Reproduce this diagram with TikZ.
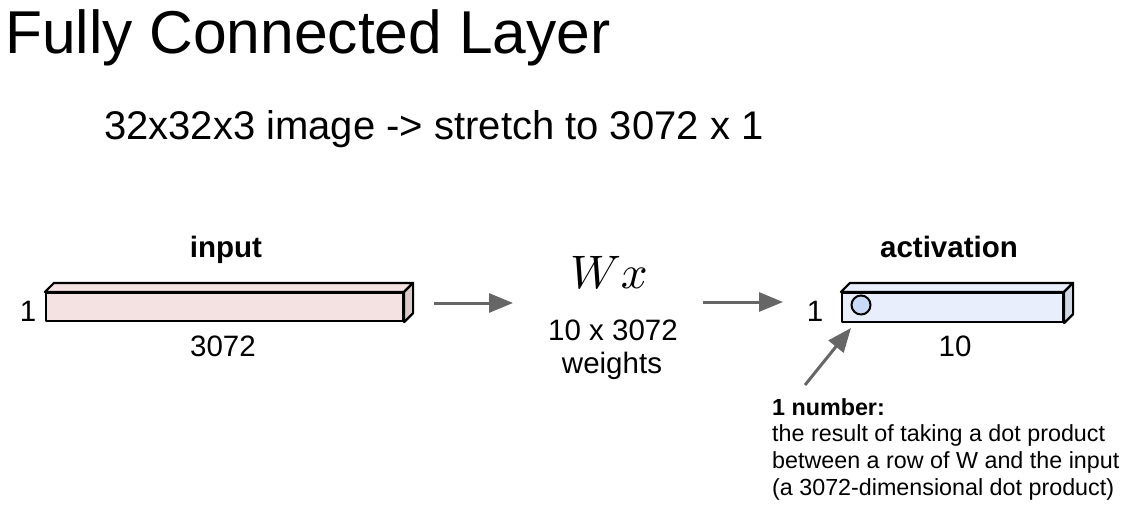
\documentclass[tikz,border=0pt]{standalone}
\usepackage{fontspec}
\setmainfont{Liberation Sans}
\usetikzlibrary{arrows.meta}
\definecolor{inpink}{HTML}{F4E1E1}
\definecolor{inpinkside}{HTML}{DCC9C9}
\definecolor{actblue}{HTML}{E8EEFB}
\definecolor{actblueside}{HTML}{D2D8E3}
\definecolor{dotblue}{HTML}{C9DAF8}
\definecolor{arrowgrey}{HTML}{666666}
\tikzset{
  lbl/.style={inner sep=0pt, font=\fontsize{29.5}{32}\selectfont},
  boldlbl/.style={inner sep=0pt, font=\fontsize{29.5}{32}\selectfont\bfseries},
  face/.style={draw=black, line width=2.2pt, line join=round},
  garrow/.style={draw=arrowgrey, line width=3pt, -{Triangle[length=24pt,width=19pt]}}
}
\begin{document}
\begin{tikzpicture}[x=1pt,y=-1pt]
\useasboundingbox (0,0) rectangle (1132,520);
% titles
\node[inner sep=0pt, anchor=base west, font=\fontsize{60.5}{64}\selectfont] (title) at (5,53) {Fully Connected Layer};
\node[inner sep=0pt, anchor=base west, font=\fontsize{40}{44}\selectfont] (sub) at (104,139) {32x32x3 image -> stretch to 3072 x 1};
% input box
\node[face, fill=inpink, minimum width=357pt, minimum height=28pt, inner sep=0pt] (inbox) at (224.5,307) {};
\filldraw[face, fill=inpink] (inbox.north west) -- ++(9,-9) -- ([shift={(9,-9)}]inbox.north east) -- (inbox.north east) -- cycle;
\filldraw[face, fill=inpinkside] (inbox.north east) -- ++(9,-9) -- ([shift={(9,-9)}]inbox.south east) -- (inbox.south east) -- cycle;
\node[boldlbl, anchor=base] (inlbl) at (226,257) {input};
\node[lbl] (inone) at (28,311) {1};
\node[lbl] (inn) at (223,346) {3072};
% activation box
\node[face, fill=actblue, minimum width=221pt, minimum height=29pt, inner sep=0pt] (actbox) at (952.5,307.5) {};
\filldraw[face, fill=actblue] (actbox.north west) -- ++(9,-9) -- ([shift={(9,-9)}]actbox.north east) -- (actbox.north east) -- cycle;
\filldraw[face, fill=actblueside] (actbox.north east) -- ++(9,-9) -- ([shift={(9,-9)}]actbox.south east) -- (actbox.south east) -- cycle;
\node[circle, draw=black, line width=2pt, fill=dotblue, minimum size=19pt, inner sep=0pt] (dot) at (861,305) {};
\node[boldlbl, anchor=base] (actlbl) at (949,257) {activation};
\node[lbl] (actone) at (815,311) {1};
\node[lbl] (actn) at (955,346) {10};
% weights
\node[inner sep=0pt, scale=4.7] (wx) at (609,272) {$Wx$};
\node[lbl] (wdim) at (613,330) {10 x 3072};
\node[lbl, anchor=base] (wlbl) at (612,373) {weights};
% arrows
\coordinate (a1s) at (434,303);
\coordinate (a1e) at (513,303);
\coordinate (a2s) at (703,302);
\coordinate (a2e) at (783,302);
\coordinate (a3s) at (805,385);
\coordinate (a3e) at (851,328);
\draw[garrow] (a1s) -- (a1e);
\draw[garrow] (a2s) -- (a2e);
\draw[garrow] (a3s) -- (a3e);
% annotation
\node[inner sep=0pt, anchor=north west, align=left, font=\fontsize{23.3}{26.7}\selectfont] (note) at (772,398)
  {\textbf{1 number:}\\the result of taking a dot product\\between a row of W and the input\\(a 3072-dimensional dot product)};
\end{tikzpicture}
\end{document}
